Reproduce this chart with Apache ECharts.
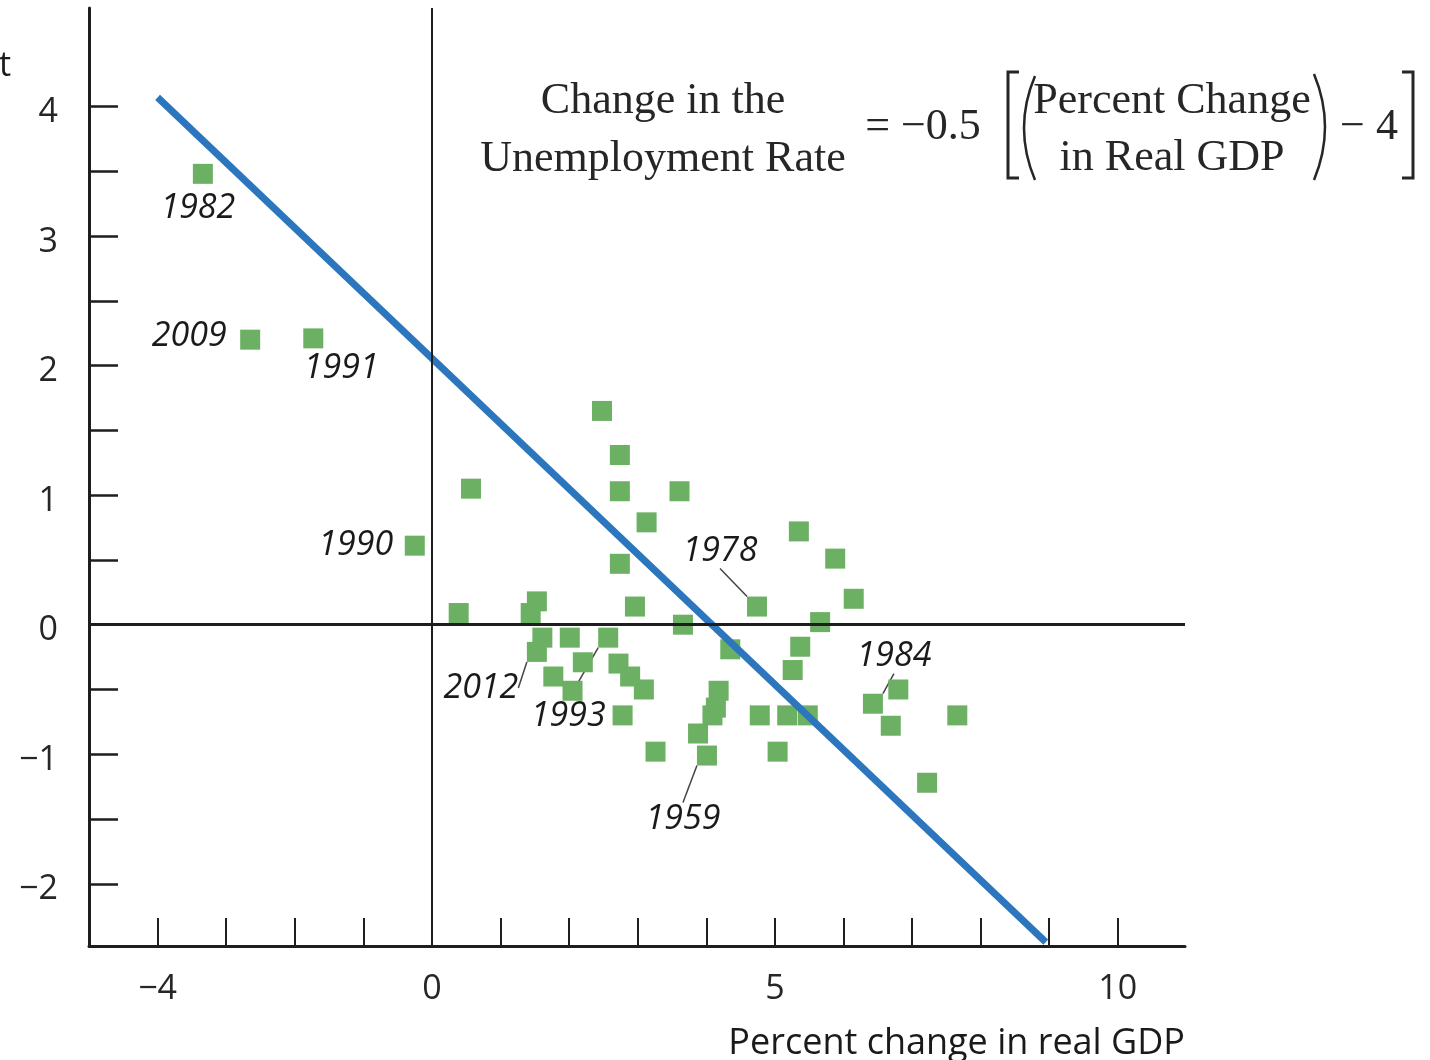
<!DOCTYPE html>
<html>
<head>
<meta charset="utf-8">
<title>Okun's law</title>
<script src="https://cdn.jsdelivr.net/npm/echarts@6/dist/echarts.min.js"></script>
<style>
  html, body { margin: 0; padding: 0; background: #fff; }
  #chart { width: 1430px; height: 1060px; }
</style>
</head>
<body>
<div id="chart"></div>
<script>
// one entry per year: percent change in real GDP (x), change in unemployment rate (y)
const gdpChange = [
  -3.34, -2.65, -1.73, -0.25, 0.57, 2.48, 2.74, 2.74, 3.61, 3.13,
  2.74, 5.35, 5.88, 6.15, 4.74, 0.39, 1.53, 1.44, 2.96, 3.66,
  5.66, 1.61, 2.01, 2.57, 4.35, 5.37, 1.53, 2.20, 2.72, 2.89,
  3.09, 1.77, 2.05, 2.78, 3.26, 4.18, 4.14, 4.09, 3.88, 4.01,
  4.78, 5.18, 5.48, 5.04, 5.26, 6.43, 6.80, 6.69, 7.66, 7.22
];
const unempChange = [
  3.48, 2.20, 2.21, 0.61, 1.05, 1.65, 1.31, 1.03, 1.03, 0.79,
  0.47, 0.72, 0.51, 0.20, 0.14, 0.09, 0.18, 0.09, 0.14, 0.00,
  0.02, -0.10, -0.10, -0.10, -0.19, -0.17, -0.21, -0.29, -0.30, -0.40,
  -0.50, -0.40, -0.51, -0.70, -0.98, -0.51, -0.64, -0.70, -0.84, -1.01,
  -0.70, -0.70, -0.70, -0.98, -0.35, -0.61, -0.50, -0.78, -0.70, -1.22
];
// '' = point not labelled
const yearLabels = [
  '1982', '2009', '1991', '1990', '', '', '', '', '', '',
  '', '', '', '', '1978', '', '', '', '', '',
  '', '', '', '1993', '', '', '2012', '', '', '',
  '', '', '', '', '', '', '', '', '', '1959',
  '', '', '', '', '', '1984', '', '', '', ''
];
const leaderYears = ['1978', '2012', '1993', '1959', '1984'];

// fitted line end points
const fitGdp = [-4, 8.95];
const fitUnemp = [4.07, -2.45];

const xTickValues = [-4, -3, -2, -1, 0, 1, 2, 3, 4, 5, 6, 7, 8, 9, 10];
const xLabelValues = [-4, 0, 5, 10];
const yTickValues = [-2, -1.5, -1, -0.5, 0, 0.5, 1, 1.5, 2, 2.5, 3, 3.5, 4];
const yLabelValues = [-2, -1, 0, 1, 2, 3, 4];

// label offsets from the square centre, px
const labelOffsets = {
  '1982': [-5, 34], '2009': [-61, -3], '1991': [28, 30], '1990': [-59, 0],
  '1978': [-37, -55], '2012': [-56, 36], '1993': [-40, 79], '1959': [-24, 64],
  '1984': [21, -47]
};

const ink = '#1e1e1e';
const sans = 'Open Sans';
const serif = 'Liberation Serif';
const fmtMinus = v => (v < 0 ? '\u2212' + Math.abs(v) : String(v));

const points = gdpChange.map((g, i) => ({
  value: [g, unempChange[i]],
  label: { show: yearLabels[i] !== '' },
  labelLine: { show: leaderYears.indexOf(yearLabels[i]) >= 0 }
}));

const eqText = (text, x, y) => ({
  type: 'text', x: x, y: y, silent: true,
  style: { text: text, fontFamily: serif, fontSize: 44, fill: '#262626', align: 'center', verticalAlign: 'middle' }
});

const option = {
  animation: false,
  backgroundColor: '#ffffff',
  grid: { left: 89, right: 245, top: 8, bottom: 114, outerBoundsMode: 'none' },
  xAxis: {
    type: 'value', min: -5, max: 10.98,
    name: 'Percent change in real GDP',
    nameLocation: 'end', nameGap: 0,
    nameTextStyle: { align: 'right', verticalAlign: 'top', padding: [80, 0, 0, 0], fontSize: 36, fontFamily: sans, color: '#1a1a1a' },
    splitLine: { show: false },
    axisLine: { onZero: false, lineStyle: { color: ink, width: 3 } },
    axisTick: { inside: true, length: 28, customValues: xTickValues, lineStyle: { color: ink, width: 2 } },
    axisLabel: { customValues: xLabelValues, formatter: fmtMinus, margin: 26, fontSize: 34, fontFamily: sans, color: '#262626' }
  },
  yAxis: {
    type: 'value', min: -2.48, max: 4.76,
    splitLine: { show: false },
    axisLine: { onZero: false, lineStyle: { color: ink, width: 3 } },
    axisTick: { inside: true, length: 29, customValues: yTickValues, lineStyle: { color: ink, width: 2.5 } },
    axisLabel: {
      customValues: yLabelValues,
      formatter: v => '{v|' + fmtMinus(v) + '}',
      margin: 31,
      rich: { v: { padding: [12, 0, 0, 0], fontSize: 34, fontFamily: sans, color: '#262626' } }
    }
  },
  series: [
    {
      type: 'scatter',
      symbol: 'rect',
      symbolSize: 20,
      itemStyle: { color: '#6cb063', opacity: 1 },
      label: {
        position: 'inside',
        formatter: p => yearLabels[p.dataIndex],
        fontSize: 34, fontStyle: 'italic', fontFamily: sans, color: '#1a1a1a'
      },
      labelLine: { length2: 0, lineStyle: { color: '#444', width: 1.5 } },
      labelLayout: p => {
        const off = labelOffsets[yearLabels[p.dataIndex]];
        return off ? { dx: off[0], dy: off[1] } : {};
      },
      markLine: {
        silent: true,
        symbol: ['none', 'none'],
        label: { show: false },
        lineStyle: { color: ink, type: 'solid' },
        data: [
          { xAxis: 0, lineStyle: { width: 2 } },
          { yAxis: 0, lineStyle: { width: 3 } }
        ]
      },
      data: points
    },
    {
      type: 'line',
      symbol: 'none',
      lineStyle: { color: '#2c76be', width: 7 },
      data: fitGdp.map((g, i) => [g, fitUnemp[i]])
    }
  ],
  graphic: [
    { type: 'text', x: 11, y: 66, silent: true,
      style: { text: 'percent', fontFamily: sans, fontSize: 34, fill: '#1a1a1a', align: 'right', verticalAlign: 'middle' } },
    eqText('Change in the', 663, 101),
    eqText('Unemployment Rate', 663, 159),
    eqText('= \u22120.5', 923, 127),
    eqText('Percent Change', 1172, 101),
    eqText('in Real GDP', 1172, 158),
    eqText('\u2212 4', 1369, 127),
    { type: 'polyline', silent: true, shape: { points: [[1019, 72], [1008, 72], [1008, 178], [1019, 178]] },
      style: { stroke: '#262626', lineWidth: 3, fill: null } },
    { type: 'bezierCurve', silent: true, shape: { x1: 1035, y1: 76, x2: 1035, y2: 180, cpx1: 1013, cpy1: 128 },
      style: { stroke: '#262626', lineWidth: 2.5, fill: null } },
    { type: 'bezierCurve', silent: true, shape: { x1: 1314, y1: 74, x2: 1314, y2: 180, cpx1: 1336, cpy1: 127 },
      style: { stroke: '#262626', lineWidth: 2.5, fill: null } },
    { type: 'polyline', silent: true, shape: { points: [[1402, 72], [1413, 72], [1413, 178], [1402, 178]] },
      style: { stroke: '#262626', lineWidth: 3, fill: null } }
  ]
};

const chart = echarts.init(document.getElementById('chart'));
chart.setOption(option);
</script>
</body>
</html>
